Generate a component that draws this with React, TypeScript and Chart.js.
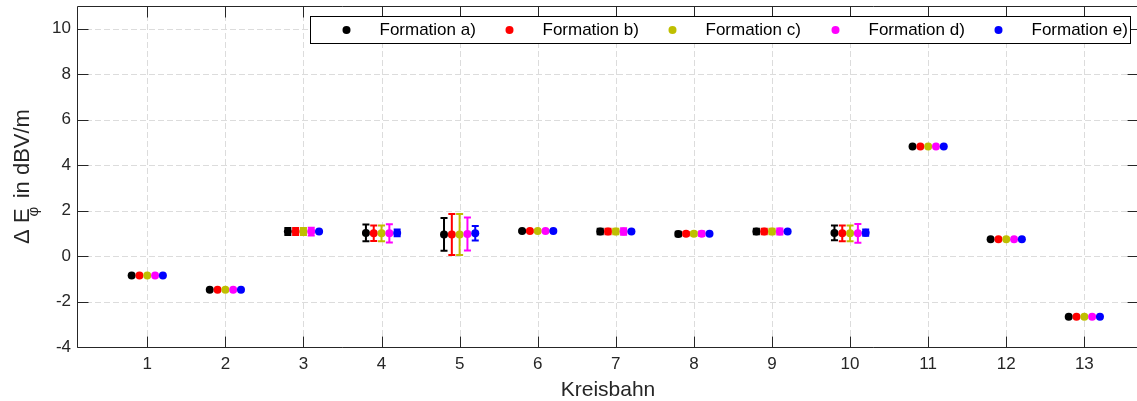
import React, { useEffect, useRef } from "react";
import { Chart, registerables } from "chart.js";

Chart.register(...registerables);

const categories = [1, 2, 3, 4, 5, 6, 7, 8, 9, 10, 11, 12, 13];
const xTicks = [1, 2, 3, 4, 5, 6, 7, 8, 9, 10, 11, 12, 13];
const yTicks = [-4, -2, 0, 2, 4, 6, 8, 10];
const formations = ["Formation a)", "Formation b)", "Formation c)", "Formation d)", "Formation e)"];
const colors = ["#000000", "#ff0000", "#bfbf00", "#ff00ff", "#0000ff"];
const offsets = [-0.2, -0.1, 0, 0.1, 0.2];

const valuesA = [-0.86, -1.48, 1.08, 1.02, 0.95, 1.1, 1.08, 0.97, 1.08, 1.02, 4.82, 0.74, -2.67];
const valuesB = [-0.86, -1.48, 1.08, 1.0, 0.95, 1.1, 1.08, 0.98, 1.08, 1.0, 4.82, 0.74, -2.67];
const valuesC = [-0.86, -1.48, 1.08, 1.0, 0.95, 1.1, 1.08, 0.98, 1.08, 1.0, 4.82, 0.74, -2.67];
const valuesD = [-0.86, -1.48, 1.08, 1.0, 0.97, 1.1, 1.08, 0.98, 1.08, 1.0, 4.82, 0.74, -2.67];
const valuesE = [-0.86, -1.48, 1.08, 1.02, 1.0, 1.1, 1.08, 0.98, 1.08, 1.03, 4.82, 0.74, -2.67];

const errorsA = [0, 0, 0.15, 0.37, 0.72, 0.03, 0.12, 0.1, 0.12, 0.32, 0, 0, 0];
const errorsB = [0, 0, 0.15, 0.34, 0.9, 0.03, 0.12, 0.08, 0.12, 0.35, 0, 0, 0];
const errorsC = [0, 0, 0.15, 0.35, 0.9, 0.03, 0.12, 0.08, 0.12, 0.35, 0, 0, 0];
const errorsD = [0, 0, 0.17, 0.4, 0.73, 0.03, 0.14, 0.1, 0.13, 0.41, 0, 0, 0];
const errorsE = [0, 0, 0.02, 0.15, 0.32, 0.02, 0.05, 0.03, 0.04, 0.14, 0, 0, 0];

const allValues = [valuesA, valuesB, valuesC, valuesD, valuesE];
const allErrors = [errorsA, errorsB, errorsC, errorsD, errorsE];

const FONT = "'Liberation Sans', Arial, sans-serif";
const AXIS_COLOR = "#262626";

const framePlugin = {
  id: "frame",
  beforeDatasetsDraw(chart: any) {
    const { ctx, chartArea: a, scales } = chart;
    ctx.save();
    ctx.strokeStyle = "#dcdcdc";
    ctx.lineWidth = 1;
    ctx.setLineDash([6, 3]);
    xTicks.forEach((v) => {
      const x = Math.round(scales.x.getPixelForValue(v)) + 0.5;
      ctx.beginPath();
      ctx.moveTo(x, a.top);
      ctx.lineTo(x, a.bottom);
      ctx.stroke();
    });
    yTicks.forEach((v) => {
      const y = Math.round(scales.y.getPixelForValue(v)) + 0.5;
      ctx.beginPath();
      ctx.moveTo(a.left, y);
      ctx.lineTo(a.right, y);
      ctx.stroke();
    });
    ctx.restore();
  },
  afterDatasetDraw(chart: any, args: any) {
    const k = args.index;
    const { ctx, scales } = chart;
    const vals = allValues[k];
    const errs = allErrors[k];
    ctx.save();
    ctx.strokeStyle = colors[k];
    ctx.lineWidth = 2;
    ctx.setLineDash([]);
    categories.forEach((c, i) => {
      const e = errs[i];
      if (!e) return;
      const x = scales.x.getPixelForValue(c + offsets[k]);
      const y1 = scales.y.getPixelForValue(vals[i] + e);
      const y2 = scales.y.getPixelForValue(vals[i] - e);
      const cw = 3.5;
      ctx.beginPath();
      ctx.moveTo(x, y1);
      ctx.lineTo(x, y2);
      ctx.moveTo(x - cw, y1);
      ctx.lineTo(x + cw, y1);
      ctx.moveTo(x - cw, y2);
      ctx.lineTo(x + cw, y2);
      ctx.stroke();
    });
    ctx.restore();
  },
  afterDraw(chart: any) {
    const { ctx, chartArea: a, scales } = chart;
    ctx.save();
    ctx.strokeStyle = AXIS_COLOR;
    ctx.lineWidth = 1;
    ctx.setLineDash([]);
    const L = Math.round(a.left) + 0.5;
    const R = Math.round(a.right) - 0.5;
    const T = Math.round(a.top) + 0.5;
    const B = Math.round(a.bottom) + 0.5;
    ctx.beginPath();
    ctx.rect(L, T, R - L, B - T);
    ctx.stroke();
    const tl = 11;
    ctx.beginPath();
    xTicks.forEach((v) => {
      const x = Math.round(scales.x.getPixelForValue(v)) + 0.5;
      ctx.moveTo(x, B);
      ctx.lineTo(x, B - tl);
      ctx.moveTo(x, T);
      ctx.lineTo(x, T + tl);
    });
    yTicks.forEach((v) => {
      const y = Math.round(scales.y.getPixelForValue(v)) + 0.5;
      ctx.moveTo(L, y);
      ctx.lineTo(L + tl, y);
      ctx.moveTo(R, y);
      ctx.lineTo(R - tl, y);
    });
    ctx.stroke();

    // legend
    const lx = 310.5, ly = 16.5, lw = 820, lh = 27;
    ctx.fillStyle = "#ffffff";
    ctx.fillRect(lx, ly, lw, lh);
    ctx.strokeStyle = "#000000";
    ctx.strokeRect(lx, ly, lw, lh);
    ctx.font = `17px ${FONT}`;
    ctx.textBaseline = "middle";
    ctx.textAlign = "left";
    formations.forEach((name, i) => {
      const mx = 346.5 + i * 163;
      ctx.fillStyle = colors[i];
      ctx.beginPath();
      ctx.arc(mx, 30, 4, 0, Math.PI * 2);
      ctx.fill();
      ctx.fillStyle = "#000000";
      ctx.fillText(name, 379.5 + i * 163, 30.5);
    });

    // x title
    ctx.fillStyle = AXIS_COLOR;
    ctx.font = `21px ${FONT}`;
    ctx.textAlign = "center";
    ctx.textBaseline = "alphabetic";
    ctx.fillText("Kreisbahn", (a.left + a.right) / 2, 396);

    // y title (rotated)
    const cy = (a.top + a.bottom) / 2;
    ctx.translate(28.5, cy);
    ctx.rotate(-Math.PI / 2);
    ctx.textAlign = "left";
    ctx.font = `22px ${FONT}`;
    const part1 = "\u0394 E";
    const part2 = " in dBV/m";
    const w1 = ctx.measureText(part1).width;
    const w2 = ctx.measureText(part2).width;
    const total = w1 + w2 + 4;
    const x0 = -total / 2;
    ctx.fillText(part1, x0, 0);
    ctx.font = `15px ${FONT}`;
    ctx.fillText("\u03c6", x0 + w1 - 8, 9);
    ctx.font = `22px ${FONT}`;
    ctx.fillText(part2, x0 + w1 + 4, 0);
    ctx.restore();
  },
};

export default function App() {
  const canvasRef = useRef<HTMLCanvasElement | null>(null);

  useEffect(() => {
    const canvas = canvasRef.current;
    if (!canvas) return;
    const datasets = formations.map((name, k) => ({
      label: name,
      data: categories.map((c, i) => ({ x: c + offsets[k], y: allValues[k][i] })),
      backgroundColor: colors[k],
      borderColor: colors[k],
      pointRadius: 4,
      pointBorderWidth: 0,
      pointStyle: "circle",
      showLine: false,
      order: 5 - k,
    }));
    const chart = new Chart(canvas, {
      type: "scatter",
      data: { datasets },
      options: {
        responsive: false,
        animation: false,
        devicePixelRatio: 1,
        layout: { padding: { top: 6, right: 6, left: 0, bottom: 0 } },
        plugins: {
          legend: { display: false },
          tooltip: { enabled: false },
          title: { display: false },
        },
        scales: {
          x: {
            type: "linear",
            min: 0.1,
            max: 13.7,
            afterBuildTicks: (s: any) => {
              s.ticks = xTicks.map((v) => ({ value: v }));
            },
            afterFit: (s: any) => {
              s.height = 54;
              s.paddingLeft = 0;
              s.paddingRight = 0;
            },
            grid: { display: false, drawTicks: false },
            border: { display: false },
            ticks: {
              autoSkip: false,
              maxRotation: 0,
              padding: 7,
              color: AXIS_COLOR,
              font: { family: FONT, size: 17 },
              callback: (v: any) => String(v),
            },
          },
          y: {
            type: "linear",
            min: -4,
            max: 11,
            afterBuildTicks: (s: any) => {
              s.ticks = yTicks.map((v) => ({ value: v }));
            },
            afterFit: (s: any) => {
              s.width = 77;
              s.paddingTop = 0;
              s.paddingBottom = 0;
            },
            grid: { display: false, drawTicks: false },
            border: { display: false },
            ticks: {
              padding: 6,
              color: AXIS_COLOR,
              font: { family: FONT, size: 17 },
              callback: (v: any) => String(v),
            },
          },
        },
      },
      plugins: [framePlugin],
    } as any);
    return () => chart.destroy();
  }, []);

  return (
    <div
      style={{
        position: "fixed",
        left: 0,
        top: 0,
        width: 1137,
        height: 401,
        overflow: "hidden",
        background: "#ffffff",
      }}
    >
      <canvas ref={canvasRef} width={1145} height={401} style={{ width: 1145, height: 401, display: "block" }} />
    </div>
  );
}
